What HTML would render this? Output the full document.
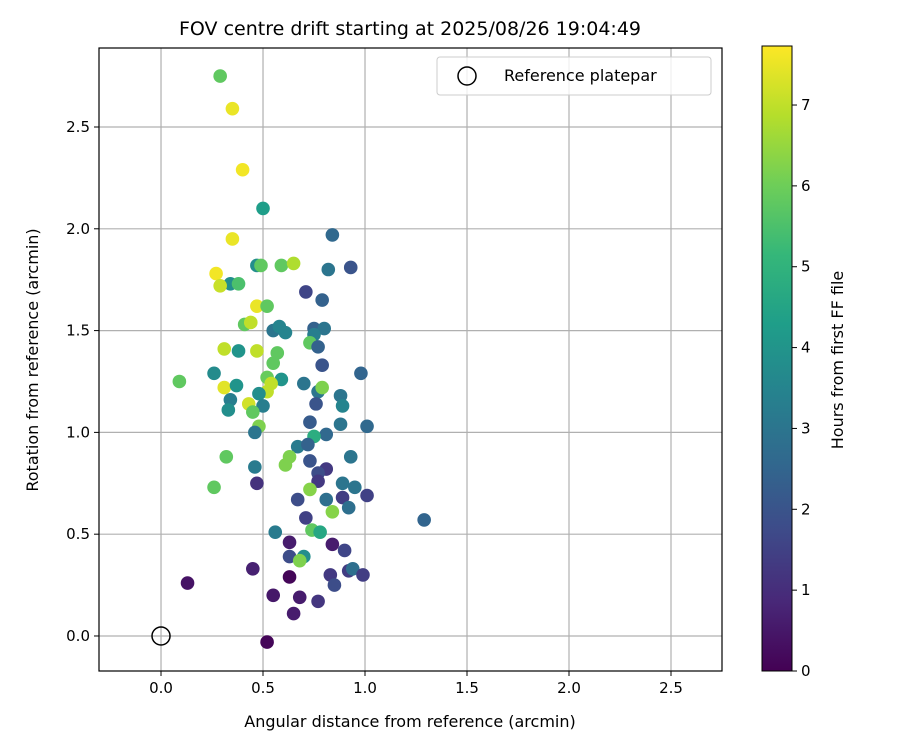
<!DOCTYPE html>
<html><head><meta charset="utf-8"><style>
body{margin:0;background:#fff;font-family:"Liberation Sans","DejaVu Sans",sans-serif}
svg text{font-family:"DejaVu Sans","Liberation Sans",sans-serif;fill:#000}
</style></head><body>
<svg id="c" width="900" height="750" xmlns="http://www.w3.org/2000/svg">
<defs><linearGradient id="vir" x1="0" y1="1" x2="0" y2="0"></linearGradient></defs>
</svg>
<script>
const xs=[0.29,0.35,0.40,0.50,0.35,0.84,0.47,0.49,0.59,0.65,0.82,0.93,0.27,0.34,0.38,0.29,0.71,0.79,0.47,0.52,
0.41,0.44,0.55,0.58,0.61,0.75,0.80,0.75,0.73,0.77,
0.31,0.38,0.47,0.57,0.55,0.79,0.98,0.09,0.26,0.52,0.59,0.31,0.37,0.54,0.52,0.48,0.70,0.77,0.79,0.88,0.89,0.34,0.50,0.43,0.45,0.33,0.76,
0.73,0.88,1.01,0.48,0.46,0.81,0.75,0.67,0.72,0.93,0.32,0.73,0.63,0.61,0.46,0.81,0.77,0.77,0.47,0.26,0.89,0.95,0.73,1.01,0.67,0.81,0.89,0.92,0.84,0.71,1.29,
0.56,0.74,0.78,0.63,0.84,0.90,0.63,0.70,0.68,0.45,0.83,0.92,0.94,0.99,0.85,0.63,0.13,0.55,0.68,0.77,0.65,0.52];
const ys=[2.75,2.59,2.29,2.10,1.95,1.97,1.82,1.82,1.82,1.83,1.80,1.81,1.78,1.73,1.73,1.72,1.69,1.65,1.62,1.62,
1.53,1.54,1.50,1.52,1.49,1.51,1.51,1.48,1.44,1.42,
1.41,1.40,1.40,1.39,1.34,1.33,1.29,1.25,1.29,1.27,1.26,1.22,1.23,1.24,1.20,1.19,1.24,1.20,1.22,1.18,1.13,1.16,1.13,1.14,1.10,1.11,1.14,
1.05,1.04,1.03,1.03,1.00,0.99,0.98,0.93,0.94,0.88,0.88,0.86,0.88,0.84,0.83,0.82,0.80,0.76,0.75,0.73,0.75,0.73,0.72,0.69,0.67,0.67,0.68,0.63,0.61,0.58,0.57,
0.51,0.52,0.51,0.46,0.45,0.42,0.39,0.39,0.37,0.33,0.30,0.32,0.33,0.30,0.25,0.29,0.26,0.20,0.19,0.17,0.11,-0.03];
const hrs=[5.8,7.5,7.6,4.3,7.5,2.6,3.8,5.8,5.8,6.8,3.0,2.0,7.6,3.8,5.5,7.1,1.6,2.4,7.5,5.8,
5.8,7.0,3.0,3.5,3.5,2.4,3.0,3.3,5.8,2.4,
7.0,4.0,7.0,5.8,5.8,2.0,2.5,5.8,3.7,5.9,4.0,7.4,4.0,7.0,7.0,3.8,3.0,3.0,6.2,3.0,3.5,3.3,3.3,7.2,5.8,3.8,2.0,
2.2,3.0,2.6,6.2,3.0,2.6,4.8,3.2,2.4,3.0,5.8,2.0,6.2,6.2,3.2,1.3,1.8,1.3,1.1,5.8,3.0,3.0,6.3,1.5,1.8,2.8,1.4,2.8,6.3,1.5,2.5,
3.2,5.8,4.6,0.6,0.6,1.6,1.8,3.8,6.2,0.7,1.3,1.4,2.8,1.4,1.8,0.1,0.4,0.5,0.6,1.2,0.6,0.1];
const xTicks=[0.0,0.5,1.0,1.5,2.0,2.5];
const yTicks=[0.0,0.5,1.0,1.5,2.0,2.5];
const cTicks=[0,1,2,3,4,5,6,7];
const X0=99,X1=722,Y0=48,Y1=671,xmin=-0.304,xmax=2.75,ymin=-0.172,ymax=2.888,hmax=7.73;
const sx=v=>X0+(v-xmin)/(xmax-xmin)*(X1-X0);
const sy=v=>Y1-(v-ymin)/(ymax-ymin)*(Y1-Y0);
const CB0=46,CB1=671,sc=v=>CB1-v/hmax*(CB1-CB0);
const vstops=[[68,1,84],[72,40,120],[62,74,137],[49,104,142],[38,130,142],[31,158,137],[53,183,121],[110,206,88],[181,222,43],[253,231,37]];
function vir(t){t=Math.max(0,Math.min(1,t))*(vstops.length-1);const i=Math.min(Math.floor(t),vstops.length-2),f=t-i;
const a=vstops[i],b=vstops[i+1];return `rgb(${a.map((v,k)=>Math.round(v+(b[k]-v)*f)).join(',')})`;}
const svg=document.getElementById('c'),NS='http://www.w3.org/2000/svg';
function el(t,at,p){const e=document.createElementNS(NS,t);for(const k in at)e.setAttribute(k,at[k]);(p||svg).appendChild(e);return e;}
const g=document.getElementById('vir');
vstops.forEach((s,i)=>el('stop',{offset:i/(vstops.length-1),'stop-color':`rgb(${s})`},g));
// grid
xTicks.forEach(v=>{const l=el('line',{x1:sx(v),x2:sx(v),y1:Y0,y2:Y1,stroke:'#b0b0b0','stroke-width':1.2});
});
yTicks.forEach(v=>{const l=el('line',{x1:X0,x2:X1,y1:sy(v),y2:sy(v),stroke:'#b0b0b0','stroke-width':1.2});
});
// points
xs.forEach((x,i)=>{const c=el('circle',{cx:sx(x),cy:sy(ys[i]),r:6.8,fill:vir(hrs[i]/hmax)});
});
const ref=el('circle',{cx:sx(0),cy:sy(0),r:9,fill:'none',stroke:'#000','stroke-width':1.5});

const fr=el('rect',{x:X0,y:Y0,width:X1-X0,height:Y1-Y0,fill:'none',stroke:'#000','stroke-width':1.2});

xTicks.forEach(v=>{el('line',{x1:sx(v),x2:sx(v),y1:Y1,y2:Y1+5,stroke:'#000'});
const t=el('text',{x:sx(v),y:Y1+22,'text-anchor':'middle','font-size':15});t.textContent=v.toFixed(1);
});
yTicks.forEach(v=>{el('line',{x1:X0-5,x2:X0,y1:sy(v),y2:sy(v),stroke:'#000'});
const t=el('text',{x:X0-9,y:sy(v)+5,'text-anchor':'end','font-size':15});t.textContent=v.toFixed(1);
});
// colorbar
const cb=el('rect',{x:762,y:CB0,width:30,height:CB1-CB0,fill:'url(#vir)',stroke:'#000','stroke-width':1});

cTicks.forEach(v=>{el('line',{x1:792,x2:797,y1:sc(v),y2:sc(v),stroke:'#000'});
const t=el('text',{x:801,y:sc(v)+5,'font-size':15});t.textContent=v;
});
</script>
<svg width="900" height="750" style="position:absolute;left:0;top:0">
<text x="410" y="35" text-anchor="middle" font-size="19">FOV centre drift starting at 2025/08/26 19:04:49</text>
<text x="410" y="727" text-anchor="middle" font-size="16">Angular distance from reference (arcmin)</text>
<text transform="translate(38,360) rotate(-90)" text-anchor="middle" font-size="16">Rotation from reference (arcmin)</text>
<text transform="translate(843,360) rotate(-90)" text-anchor="middle" font-size="16">Hours from first FF file</text>
<g>
<rect x="437" y="57" width="274" height="38" rx="3" fill="#fff" fill-opacity="0.8" stroke="#ccc"/>
<circle cx="467" cy="76" r="9" fill="none" stroke="#000" stroke-width="1.5"/>
<text x="504" y="81" font-size="16">Reference platepar</text>
</g>
</svg>
</body></html>
